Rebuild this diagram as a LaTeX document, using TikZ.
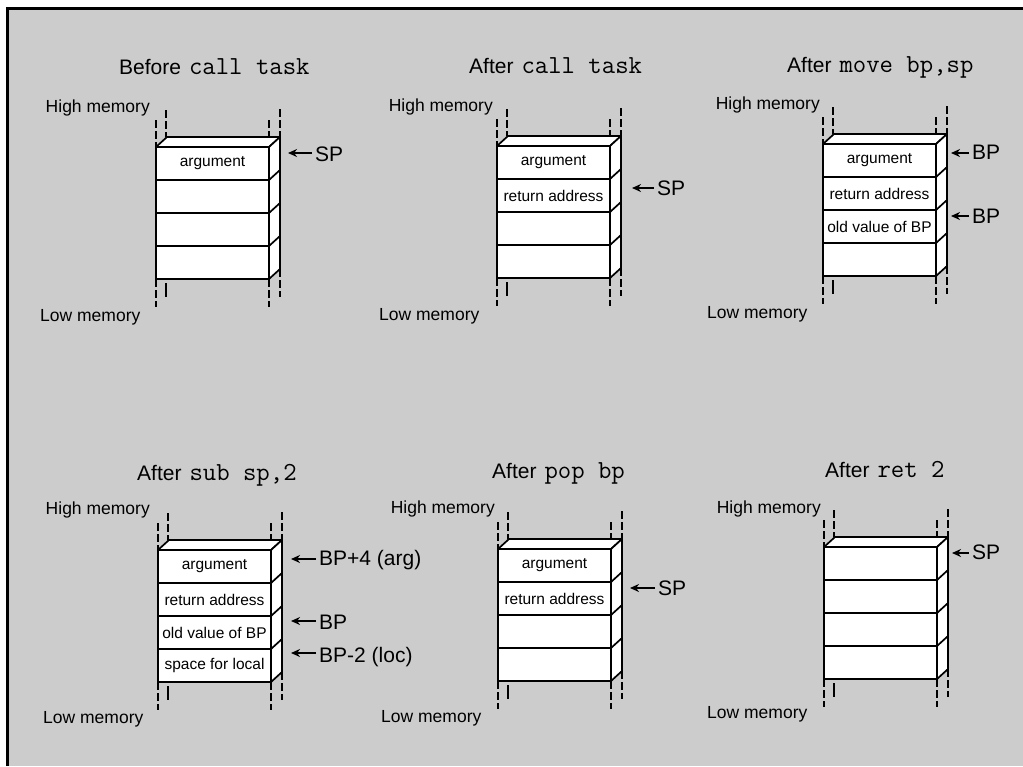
\documentclass[tikz,border=0pt]{standalone}
\usepackage{fontspec}
\setmainfont{Liberation Sans}
\usetikzlibrary{arrows.meta}
\definecolor{bggray}{gray}{0.8}
\tikzset{
 edge/.style={line width=1.7pt, line join=round},
 cell/.style={draw, line width=1.7pt, fill=white, minimum width=113pt, minimum height=33pt, inner sep=0pt, outer sep=0pt, anchor=north west, font=\fontsize{15.5}{16}\selectfont},
 brk/.style={line width=1.2pt, dash pattern=on 8pt off 3pt},
 memhi/.style={font=\fontsize{17.5}{18}\selectfont, inner sep=0pt, anchor=base east},
 memlo/.style={font=\fontsize{17.5}{18}\selectfont, inner sep=0pt, anchor=base west},
 ttl/.style={font=\fontsize{21}{22}\selectfont, inner sep=0pt, anchor=base west},
 reg/.style={font=\fontsize{21}{22}\selectfont, inner ysep=0pt, inner xsep=3pt, anchor=base west},
 ptr/.style={line width=2.2pt, -{Stealth[length=9pt,width=8pt]}},
}
\newcommand\mono[1]{\hspace{8pt}{\ttfamily\fontsize{26}{27}\selectfont #1}}
\newcommand\stackbox[7]{%
 \pgfmathsetmacro\sL{#2}\pgfmathsetmacro\sT{#3}%
 \pgfmathsetmacro\sR{#2+113}\pgfmathsetmacro\sB{#3+132}%
 \draw[brk] (\sL,\sT-27) -- (\sL,\sT) (\sL+10,\sT-37) -- (\sL+10,\sT-10)
   (\sR,\sT-27) -- (\sR,\sT) (\sR+11,\sT-38) -- (\sR+11,\sT-10);
 \draw[brk] (\sL,\sB) -- (\sL,\sB+28) (\sR,\sB) -- (\sR,\sB+28) (\sR+11,\sB-10) -- (\sR+11,\sB+18);
 \draw[edge] (\sL+10,\sB+4) -- (\sL+10,\sB+18);
 \draw[edge,fill=white] (\sL,\sT) -- (\sL+11,\sT-10) -- (\sR+11,\sT-10) -- (\sR,\sT) -- cycle;
 \draw[edge,fill=white] (\sR,\sT) -- (\sR+11,\sT-10) -- (\sR+11,\sB-10) -- (\sR,\sB) -- cycle;
 \node[cell] (#1a) at (\sL,\sT) {#4};
 \node[cell] (#1b) at (\sL,\sT+33) {#5};
 \node[cell] (#1c) at (\sL,\sT+66) {#6};
 \node[cell] (#1d) at (\sL,\sT+99) {#7};
 \foreach \k in {1,2,3} {\draw[edge] (\sR,\sT+\k*33) -- ++(11,-10);}
}
\begin{document}
\begin{tikzpicture}[x=1pt,y=-1pt]
\useasboundingbox (0,0) rectangle (1023,766);
\fill[bggray] (7,8) rectangle (1023,766);
\draw[line width=3pt] (7,766) -- (7,8) -- (1023,8);

% panel 1
\node[ttl] (t1) at (119,74) {Before\mono{call task}};
\node[memhi] (h1) at (150,112) {High memory};
\node[memlo] (l1) at (40,321) {Low memory};
\stackbox{pa}{156}{147}{argument}{}{}{}
\coordinate (pat) at (288,153);
\node[reg] (pal) at (312,161) {SP};
\draw[ptr] (pat -| pal.west) -- (pat);

% panel 2
\node[ttl] (t2) at (469,73) {After\mono{call task}};
\node[memhi] (h2) at (493,111) {High memory};
\node[memlo] (l2) at (379,320) {Low memory};
\stackbox{pb}{497}{146}{argument}{return address}{}{}
\coordinate (pbt) at (632,188);
\node[reg] (pbl) at (654,195) {SP};
\draw[ptr] (pbt -| pbl.west) -- (pbt);

% panel 3
\node[ttl] (t3) at (787,72) {After\mono{move bp,sp}};
\node[memhi] (h3) at (820,109) {High memory};
\node[memlo] (l3) at (707,318) {Low memory};
\stackbox{pc}{823}{144}{argument}{return address}{old value of BP}{}
\coordinate (pct1) at (951,153);
\node[reg] (pcl1) at (969,159) {BP};
\draw[ptr] (pct1 -| pcl1.west) -- (pct1);
\coordinate (pct2) at (951,216);
\node[reg] (pcl2) at (969,223) {BP};
\draw[ptr] (pct2 -| pcl2.west) -- (pct2);

% panel 4
\node[ttl] (t4) at (137,480) {After\mono{sub sp,2}};
\node[memhi] (h4) at (150,514) {High memory};
\node[memlo] (l4) at (43,723) {Low memory};
\stackbox{pd}{158}{550}{argument}{return address}{old value of BP}{space for local}
\coordinate (pdt1) at (291,559);
\node[reg] (pdl1) at (316,565) {BP+4 (arg)};
\draw[ptr] (pdt1 -| pdl1.west) -- (pdt1);
\coordinate (pdt2) at (291,621);
\node[reg] (pdl2) at (316,629) {BP};
\draw[ptr] (pdt2 -| pdl2.west) -- (pdt2);
\coordinate (pdt3) at (291,653);
\node[reg] (pdl3) at (316,662) {BP-2 (loc)};
\draw[ptr] (pdt3 -| pdl3.west) -- (pdt3);

% panel 5
\node[ttl] (t5) at (492,478) {After\mono{pop bp}};
\node[memhi] (h5) at (495,513) {High memory};
\node[memlo] (l5) at (381,722) {Low memory};
\stackbox{pe}{498}{549}{argument}{return address}{}{}
\coordinate (pet) at (630,588);
\node[reg] (pel) at (655,595) {SP};
\draw[ptr] (pet -| pel.west) -- (pet);

% panel 6
\node[ttl] (t6) at (825,477) {After\mono{ret 2}};
\node[memhi] (h6) at (821,513) {High memory};
\node[memlo] (l6) at (707,718) {Low memory};
\stackbox{pf}{824}{547}{}{}{}{}
\coordinate (pft) at (952,553);
\node[reg] (pfl) at (969,559) {SP};
\draw[ptr] (pft -| pfl.west) -- (pft);
\end{tikzpicture}
\end{document}
